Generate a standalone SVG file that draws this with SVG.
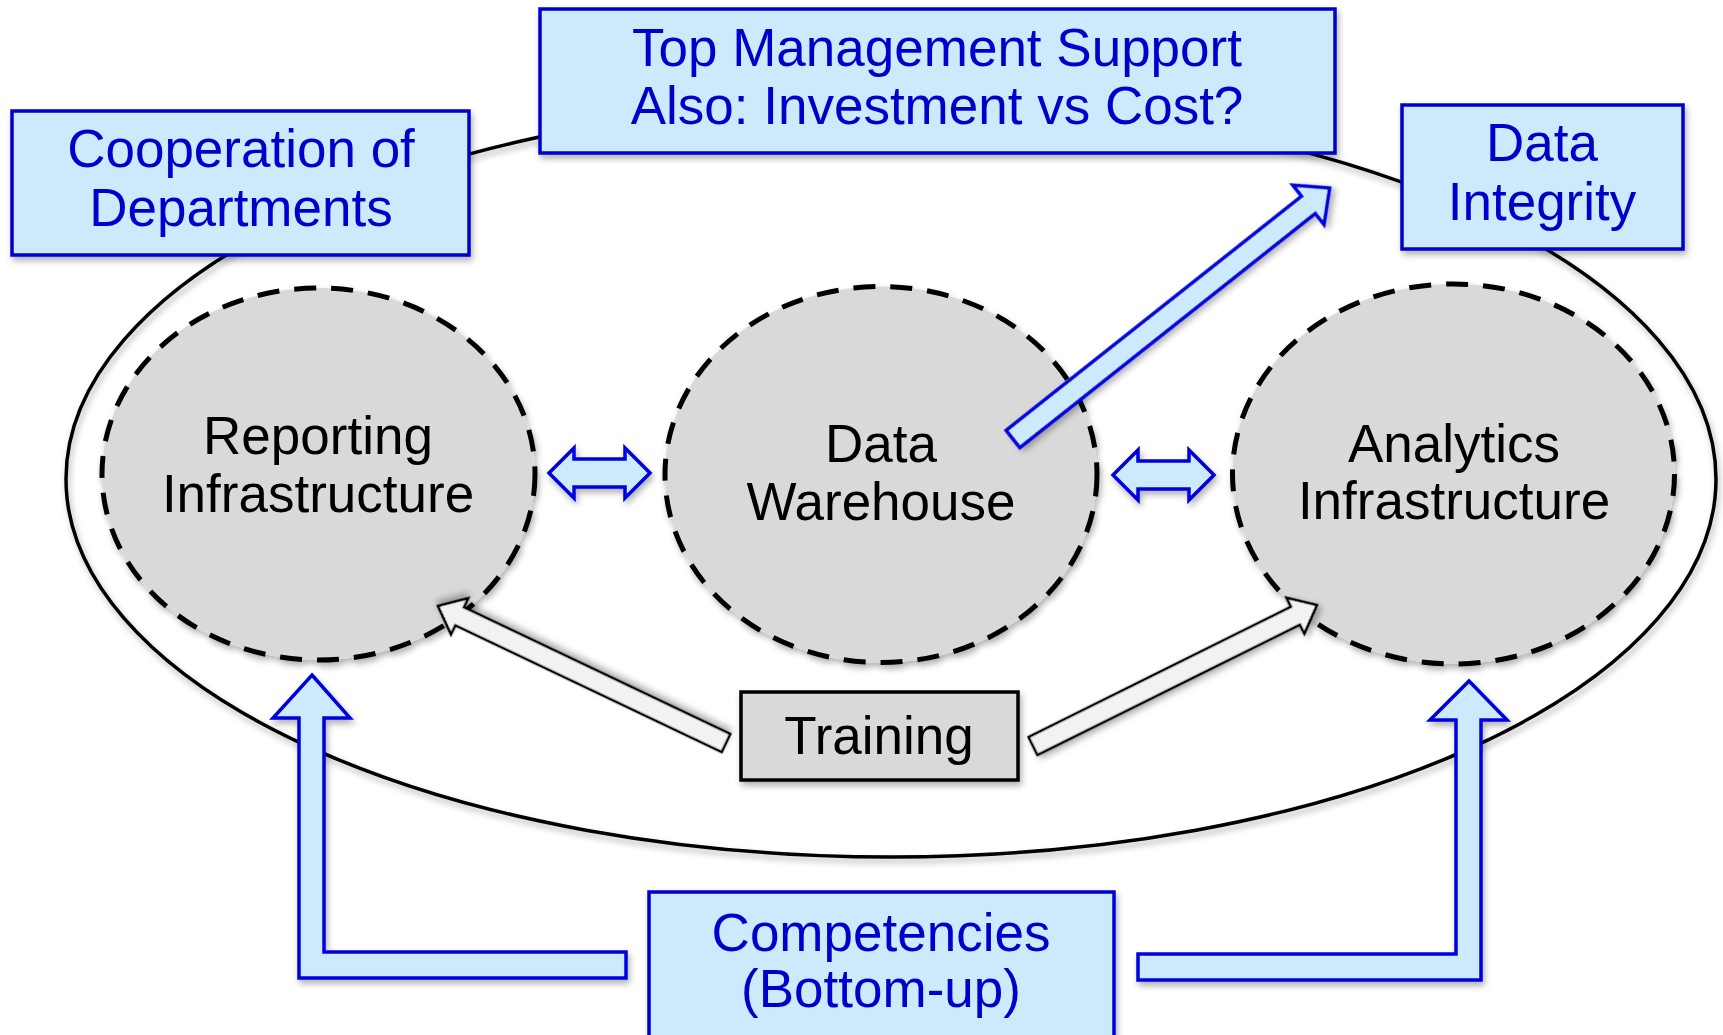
<svg xmlns="http://www.w3.org/2000/svg" width="1723" height="1035" viewBox="0 0 1723 1035">
<style>
.blue-box{fill:#cdeafc;stroke:#0000cc;stroke-width:3.5}
.blue-txt{font-family:"Liberation Sans",Arial,sans-serif;font-size:53px;fill:#0000cc;text-anchor:middle}
.blk-txt{font-family:"Liberation Sans",Arial,sans-serif;font-size:53px;fill:#000;text-anchor:middle}
.circ{fill:#d9d9d9;stroke:#000;stroke-width:5;stroke-dasharray:22 15}
.barrow{fill:#cdeafc;stroke:#0000dd;stroke-width:3.5;stroke-linejoin:miter}
.warrow{fill:#f2f2f2;stroke:#000;stroke-width:2.5;stroke-linejoin:miter}
</style>
<defs>
<filter id="sh" x="-10%" y="-10%" width="120%" height="130%">
<feDropShadow dx="2" dy="4" stdDeviation="3" flood-color="#000" flood-opacity="0.3"/>
</filter>
</defs>
<rect width="1723" height="1035" fill="#fff"/>
<g id="boundary">
<ellipse cx="891" cy="479" rx="825" ry="378" fill="none" stroke="#000" stroke-width="3.5" filter="url(#sh)"/>
</g>
<g id="reporting">
<ellipse class="circ" cx="318.5" cy="474" rx="216.5" ry="186" filter="url(#sh)"/>
<text class="blk-txt" x="318" y="454">Reporting</text>
<text class="blk-txt" x="318" y="512">Infrastructure</text>
</g>
<g id="warehouse">
<ellipse class="circ" cx="881" cy="474.5" rx="216" ry="188" filter="url(#sh)"/>
<text class="blk-txt" x="881" y="462">Data</text>
<text class="blk-txt" x="881" y="520">Warehouse</text>
</g>
<g id="analytics">
<ellipse class="circ" cx="1453.5" cy="474" rx="221" ry="190" filter="url(#sh)"/>
<text class="blk-txt" x="1454" y="462">Analytics</text>
<text class="blk-txt" x="1454" y="519">Infrastructure</text>
</g>
<g id="connectors">
<polygon class="barrow" filter="url(#sh)" points="549,473 574,448 574,459 625,459 625,448 650,473 625,498 625,487 574,487 574,498"/>
<polygon class="barrow" filter="url(#sh)" points="1113,475 1138,450 1138,461 1189,461 1189,450 1214,475 1189,500 1189,489 1138,489 1138,500"/>
<polygon class="barrow" filter="url(#sh)" transform="translate(1013,439) rotate(-38.4)" points="0,-11 377,-11 377,-25 404,0 377,25 377,11 0,11"/>
<polygon class="warrow" filter="url(#sh)" transform="translate(726,743) rotate(-154.56)" points="0,-10 295,-10 295,-20 319,0 295,20 295,10 0,10"/>
<polygon class="warrow" filter="url(#sh)" transform="translate(1033,746) rotate(-26.4)" points="0,-10 293,-10 293,-20 317,0 293,20 293,10 0,10"/>
<polygon class="barrow" filter="url(#sh)" points="312,675 350,718 324,718 324,952 626,952 626,978 299,978 299,718 273,718"/>
<polygon class="barrow" filter="url(#sh)" points="1469,681 1507,720 1481,720 1481,980 1138,980 1138,954 1456,954 1456,720 1430,720"/>
</g>
<g id="top-management">
<rect class="blue-box" x="540" y="9" width="795" height="144" filter="url(#sh)"/>
<text class="blue-txt" x="937" y="66">Top Management Support</text>
<text class="blue-txt" x="937" y="124">Also: Investment vs Cost?</text>
</g>
<g id="cooperation">
<rect class="blue-box" x="12" y="111" width="457" height="144" filter="url(#sh)"/>
<text class="blue-txt" x="241" y="167">Cooperation of</text>
<text class="blue-txt" x="241" y="226">Departments</text>
</g>
<g id="data-integrity">
<rect class="blue-box" x="1402" y="105" width="281" height="144" filter="url(#sh)"/>
<text class="blue-txt" x="1542" y="161">Data</text>
<text class="blue-txt" x="1542" y="220">Integrity</text>
</g>
<g id="training">
<rect x="741" y="692" width="277" height="88" fill="#d9d9d9" stroke="#000" stroke-width="3.5" filter="url(#sh)"/>
<text class="blk-txt" x="879" y="754">Training</text>
</g>
<g id="competencies">
<rect class="blue-box" x="649" y="892" width="465" height="160" filter="url(#sh)"/>
<text class="blue-txt" x="881" y="951">Competencies</text>
<text class="blue-txt" x="881" y="1007">(Bottom-up)</text>
</g>
</svg>
